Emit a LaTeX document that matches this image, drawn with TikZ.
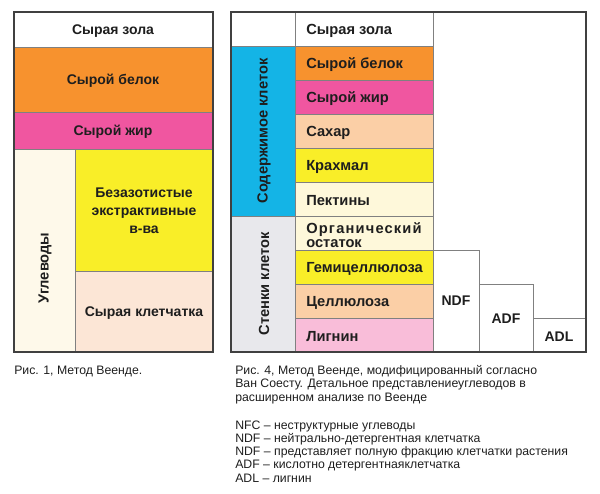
\documentclass[tikz,border=0pt]{standalone}
\usepackage{fontspec}
\setmainfont{Liberation Sans}
\definecolor{protein}{RGB}{247,146,46}
\definecolor{fat}{RGB}{240,86,160}
\definecolor{carbs}{RGB}{254,249,234}
\definecolor{nfe}{RGB}{249,238,40}
\definecolor{fibre}{RGB}{252,230,214}
\definecolor{sugar}{RGB}{251,207,166}
\definecolor{pectin}{RGB}{254,248,218}
\definecolor{lignin}{RGB}{249,189,217}
\definecolor{content}{RGB}{20,180,230}
\definecolor{walls}{RGB}{232,232,236}
\definecolor{cellline}{RGB}{128,128,128}
\definecolor{frame}{RGB}{64,64,64}
\definecolor{ink}{RGB}{30,30,30}
\tikzset{
  cell/.style={draw=cellline, line width=0.6pt},
  outer/.style={draw=frame, line width=1.2pt},
  boxtext/.style={font=\bfseries\fontsize{10.5}{13.5}\selectfont, align=center, text=ink},
  rowtext/.style={font=\bfseries\fontsize{11}{10.5}\selectfont, align=left, anchor=west, inner sep=0pt, text=ink},
  sidetext/.style={font=\bfseries\fontsize{11}{13}\selectfont, rotate=90, text=ink},
  captext/.style={font=\fontsize{9.2}{10.1}\selectfont, anchor=base west, inner sep=0pt, text=ink}
}

\begin{document}
\begin{tikzpicture}[x=0.75pt, y=-0.75pt]
  \useasboundingbox (0,0) rectangle (600,493);

  % Weende
  \filldraw[cell, fill=white] (14,12) rectangle (213,47);
  \filldraw[cell, fill=protein] (14,47) rectangle (213,112);
  \filldraw[cell, fill=fat] (14,112) rectangle (213,149);
  \filldraw[cell, fill=carbs] (14,149) rectangle (75,352);
  \filldraw[cell, fill=nfe] (75,149) rectangle (213,271);
  \filldraw[cell, fill=fibre] (75,271) rectangle (213,352);
  \draw[outer] (14,12) rectangle (213,352);
  \node[boxtext] (ash) at (113,31) {Сырая зола};
  \node[boxtext] (protein) at (113,81) {Сырой белок};
  \node[boxtext] (fat) at (113,132) {Сырой жир};
  \node[boxtext] (nfe) at (144,211) {Безазотистые\\экстрактивные\\в-ва};
  \node[boxtext] (fibre) at (144,313) {Сырая клетчатка};
  \node[sidetext] (carbs) at (45,268) {Углеводы};

  % Van Soest
  \filldraw[cell, fill=white] (231,12) rectangle (295,46);
  \filldraw[cell, fill=content] (231,46) rectangle (295,216);
  \filldraw[cell, fill=walls] (231,216) rectangle (295,352);
  \foreach \ytop/\fillc/\txt [count=\i] in {12/white/{Сырая зола}, 46/protein/{Сырой белок},
      80/fat/{Сырой жир}, 114/sugar/{Сахар}, 148/nfe/{Крахмал}, 182/pectin/{Пектины},
      216/pectin/{{\addfontfeatures{LetterSpace=8}Органический}\\остаток},
      250/nfe/{Гемицеллюлоза}, 284/sugar/{Целлюлоза}, 318/lignin/{Лигнин}} {
    \filldraw[cell, fill=\fillc] (295,\ytop) rectangle (433,\ytop+34);
    \node[rowtext] (row\i) at (306,\ytop+19) {\txt};
  }
  \draw[cell] (433,250) rectangle (479,352);
  \draw[cell] (479,284) rectangle (533,352);
  \draw[cell] (533,318) rectangle (586,352);
  \draw[outer] (231,12) rectangle (586,352);
  \node[sidetext] (cont) at (264,131) {Содержимое клеток};
  \node[sidetext] (wall) at (264,284) {Стенки клеток};
  \node[boxtext] (ndf) at (456,301) {NDF};
  \node[boxtext] (adf) at (506,319) {ADF};
  \node[boxtext] (adl) at (559,337) {ADL};

  % captions
  \node[captext] (cap1) at (14,374) {Рис. 1, Метод Веенде.};
  \foreach \yb/\txt [count=\i] in {374/{Рис. 4, Метод Веенде, модифицированный согласно},
      387.5/{Ван Соесту. Детальное представлениеуглеводов в},
      401/{расширенном анализе по Веенде},
      429/{NFC – неструктурные углеводы},
      442.3/{NDF – нейтрально-детергентная клетчатка},
      455.6/{NDF – представляет полную фракцию клетчатки растения},
      468.9/{ADF – кислотно детергентнаяклетчатка},
      482.2/{ADL – лигнин}} {
    \node[captext] (cap4\i) at (235,\yb) {\txt};
  }
\end{tikzpicture}
\end{document}
